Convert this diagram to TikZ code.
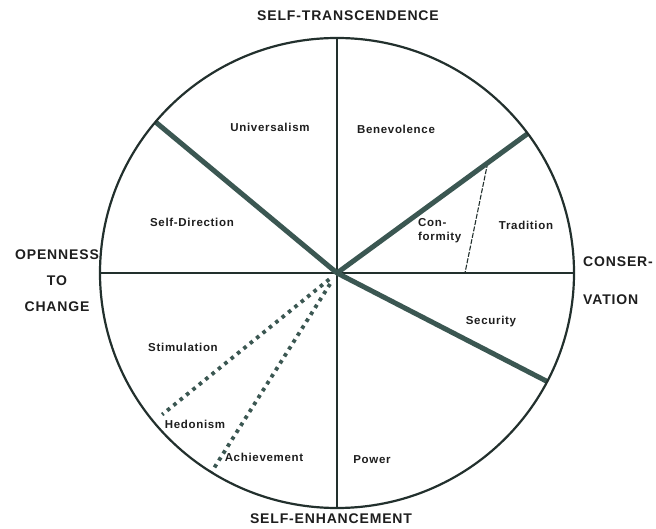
\documentclass[tikz,border=0pt]{standalone}
\usepackage{fontspec}
\setmainfont{Liberation Sans}
\newfontfamily\labfont{Liberation Sans}[LetterSpace=6, BoldFont={Liberation Sans Bold}]
\usetikzlibrary{calc}

\definecolor{rim}{HTML}{22302D}
\definecolor{axis}{HTML}{3B5752}
\definecolor{ink}{HTML}{1E1E1E}

\tikzset{
  heading/.style={font=\labfont\bfseries\fontsize{14}{26}\selectfont, text=ink, inner sep=0pt},
  value/.style={font=\labfont\bfseries\fontsize{11.5}{14}\selectfont, text=ink, inner sep=0pt},
  rimline/.style={line width=2.2pt, draw=rim},
  thinline/.style={line width=1.4pt, draw=rim},
  thickline/.style={line width=5pt, draw=axis},
  dotline/.style={line width=3.8pt, draw=axis, dash pattern=on 3.6pt off 4.6pt},
  dashline/.style={line width=1.1pt, draw=rim, dash pattern=on 5pt off 1.5pt},
}

\begin{document}
\begin{tikzpicture}[x=1pt,y=-1pt]
\useasboundingbox (0,0) rectangle (656,529);

% centre and points on the rim
\coordinate (O) at (337,273);
\path (O) ++(-90:237 and 235) coordinate (top)
      (O) ++(90:237 and 235) coordinate (bot)
      (O) ++(180:237 and 235) coordinate (lft)
      (O) ++(0:237 and 235) coordinate (rgt)
      (O) ++(-140:237 and 235) coordinate (ul)
      (O) ++(-36.4:237 and 235) coordinate (ur)
      (O) ++(27.5:237 and 235) coordinate (lr)
      (O) ++(141:225) coordinate (hed)
      (O) ++(122:237 and 235) coordinate (ach);
\coordinate (ct) at ($(O)!0.79!(ur)$);
\coordinate (cb) at ($(O)!0.54!(rgt)$);

% axes
\draw[thinline] (top) -- (bot);
\draw[thinline] (lft) -- (rgt);
\draw[dashline] (ct) -- (cb);

% main divisions
\draw[thickline] (O) -- (ul);
\draw[thickline] (O) -- (ur);
\draw[thickline] (O) -- (lr);
\draw[dotline, shorten <=10pt] (O) -- (hed);
\draw[dotline, shorten <=13pt] (O) -- (ach);

\draw[rimline] (O) ellipse [x radius=237pt, y radius=235pt];

% higher order types
\node[heading] (st) at (348,16) {SELF-TRANSCENDENCE};
\node[heading] (se) at (331,519) {SELF-ENHANCEMENT};
\node[heading, align=center] (oc) at (57,281) {OPENNESS\\TO\\CHANGE};
\node[heading, align=left, anchor=west] (cv) at (583,281) {CONSER-\\[12pt]VATION};

% value types
\node[value] (uni) at (270,127) {Universalism};
\node[value] (ben) at (396,129) {Benevolence};
\node[value] (sd) at (192,222) {Self-Direction};
\node[value, align=left, anchor=west] (conf) at (418,231) {Con-\\formity};
\node[value] (tra) at (526,225) {Tradition};
\node[value] (sec) at (491,322) {Security};
\node[value] (sti) at (183,347) {Stimulation};
\node[value] (hedo) at (195,424) {Hedonism};
\node[value] (achi) at (264,457) {Achievement};
\node[value] (pow) at (372,460) {Power};
\end{tikzpicture}
\end{document}
